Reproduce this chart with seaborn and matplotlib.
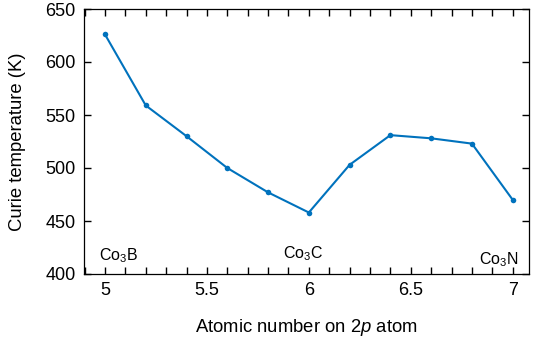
import numpy as np
import pandas as pd
import seaborn as sns
import matplotlib.pyplot as plt
from matplotlib.ticker import MultipleLocator

atomic_number = [5.0, 5.2, 5.4, 5.6, 5.8, 6.0, 6.2, 6.4, 6.6, 6.8, 7.0]
curie_temp = [626, 559, 530, 500, 477, 458, 503, 531, 528, 523, 470]
labels = ["Co$_3$B", "Co$_3$C", "Co$_3$N"]
label_x = [5.065, 5.973, 6.93]
label_y = [417, 419, 414]

df = pd.DataFrame({"Z": atomic_number, "Tc": curie_temp})

sns.set_style("ticks")
plt.rcParams.update({
    "font.family": ["Liberation Sans", "DejaVu Sans"],
    "mathtext.fontset": "custom",
    "mathtext.rm": "Liberation Sans",
    "mathtext.it": "Liberation Sans:italic",
    "axes.edgecolor": "black", "text.color": "black",
    "axes.labelcolor": "black", "xtick.color": "black", "ytick.color": "black",
})

fig = plt.figure(figsize=(5.38, 3.37), dpi=100)
ax = fig.add_axes([84 / 538, 1 - 274 / 337, 445 / 538, 265 / 337])
sns.lineplot(data=df, x="Z", y="Tc", ax=ax, color="#0072BD", lw=1.5,
             marker="o", markersize=4, markeredgewidth=0)

for t, x, y in zip(labels, label_x, label_y):
    ax.text(x, y, t, ha="center", va="center", fontsize=11.5)

ax.set_xlim(4.897, 7.08)
ax.set_ylim(400, 650)
ax.set_xticks([5, 5.5, 6, 6.5, 7])
ax.set_xticklabels(["5", "5.5", "6", "6.5", "7"])
ax.xaxis.set_minor_locator(MultipleLocator(0.1))
ax.yaxis.set_major_locator(MultipleLocator(50))
ax.tick_params(which="both", direction="in", top=True, right=True,
               labelsize=13, width=1, length=5, color="black")
ax.tick_params(which="major", pad=6)
for s in ax.spines.values():
    s.set_linewidth(0.9)
    s.set_color("black")
ax.set_xlabel("Atomic number on 2$\\mathit{p}$ atom", fontsize=13.3, labelpad=13)
ax.set_ylabel("Curie temperature (K)", fontsize=13.3, labelpad=14)

fig.savefig("out.png", dpi=100)
